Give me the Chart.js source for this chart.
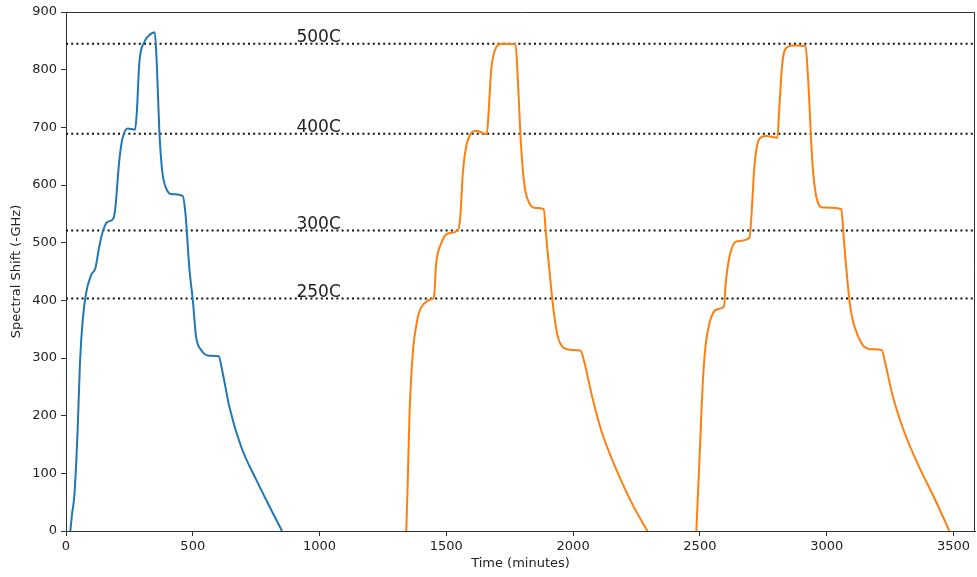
<!DOCTYPE html>
<html>
<head>
<meta charset="utf-8">
<script src="https://cdn.jsdelivr.net/npm/chart.js@4.4.1/dist/chart.umd.min.js"></script>
<style>
  html, body { margin: 0; padding: 0; background: #fff; }
  #wrap { width: 977px; height: 577px; }
</style>
</head>
<body>
<div id="wrap"><canvas id="shift-chart" width="977" height="577"></canvas></div>
<script>
// Run 1 (blue)
const run1Time  = [17, 24, 33, 46, 55, 66, 79, 99, 116, 131, 147, 164, 187, 195, 210, 223, 243, 272, 279, 289, 309, 329, 350,
                   358, 368, 379, 395, 421, 460, 471, 487, 500, 513, 533, 565, 602, 618, 644, 690, 750, 802, 852];
const run1Shift = [0, 30, 62, 176, 291, 366, 412, 444, 456, 493, 522, 536, 542, 562, 642, 681, 698, 696, 724, 811, 848, 860, 865,
                   811, 695, 626, 594, 584, 581, 551, 453, 401, 337, 314, 304, 303, 274, 216, 147, 89, 43, 0];

// Run 2 (orange)
const run2Time  = [1342, 1348, 1355, 1361, 1370, 1381, 1394, 1414, 1440, 1451, 1460, 1480, 1506, 1545, 1555, 1565, 1578, 1598,
                   1618, 1660, 1668, 1677, 1697, 1717, 1773, 1782, 1795, 1809, 1828, 1855, 1884, 1894, 1914, 1927, 1939, 1961,
                   1992, 2029, 2044, 2074, 2112, 2173, 2233, 2293];
const run2Shift = [0, 89, 205, 262, 320, 355, 381, 395, 402, 405, 464, 499, 516, 521, 545, 620, 666, 690,
                   694, 688, 736, 799, 839, 845, 844, 782, 666, 597, 568, 560, 558, 510, 418, 369, 338, 318,
                   314, 313, 293, 235, 173, 104, 47, 0];

// Run 3 (orange)
const run3Time  = [2486, 2495, 2506, 2512, 2522, 2535, 2552, 2571, 2595, 2602, 2617, 2644, 2696, 2703, 2716, 2736, 2762, 2806,
                   2812, 2825, 2844, 2867, 2917, 2927, 2944, 2959, 2986, 3058, 3067, 3088, 3101, 3124, 3147, 3184, 3217, 3230,
                   3260, 3305, 3366, 3426, 3484];
const run3Shift = [0, 89, 205, 262, 320, 355, 378, 385, 389, 430, 476, 502, 509, 545, 637, 681, 685, 682,
                   724, 811, 839, 842, 841, 782, 637, 580, 561, 558, 510, 407, 369, 338, 320, 315, 314, 293,
                   235, 173, 110, 56, 0];

// Temperature reference levels
const levelNames = ['250C', '300C', '400C', '500C'];
const levelShift = [403, 521, 689, 845];
const levelLabelTime = 909;

const xTicks = [0, 500, 1000, 1500, 2000, 2500, 3000, 3500];
const xMax = 3585;
const yMax = 900;

const FONT = "'DejaVu Sans', sans-serif";
const BLUE = '#1f77b4';
const ORANGE = '#ff7f0e';
const INK = '#222';
const SPINE = '#333';

function toPoints(times, values) {
    return times.map((t, i) => ({ x: t, y: values[i] }));
}

function curve(times, values, color) {
    return {
        data: toPoints(times, values),
        borderColor: color,
        borderWidth: 2,
        pointRadius: 0,
        fill: false,
        cubicInterpolationMode: 'monotone'
    };
}

const levelSets = levelShift.map(v => ({
    data: [{ x: 0, y: v }, { x: xMax, y: v }],
    borderColor: '#111',
    borderWidth: 2,
    borderDash: [2, 3.2],
    borderCapStyle: 'butt',
    pointRadius: 0,
    fill: false
}));

// closes the box: top and right spines
const boxPlugin = {
    id: 'box',
    afterDraw(chart) {
        const { ctx, chartArea: a } = chart;
        ctx.save();
        ctx.strokeStyle = SPINE;
        ctx.lineWidth = 1;
        ctx.beginPath();
        ctx.moveTo(a.left, a.top + 0.5);
        ctx.lineTo(a.right - 0.5, a.top + 0.5);
        ctx.lineTo(a.right - 0.5, a.bottom);
        ctx.stroke();
        ctx.restore();
    }
};

// text above each dotted level
const levelLabels = {
    id: 'levelLabels',
    afterDatasetsDraw(chart) {
        const { ctx, scales } = chart;
        ctx.save();
        ctx.font = '17px ' + FONT;
        ctx.fillStyle = INK;
        ctx.textAlign = 'left';
        ctx.textBaseline = 'alphabetic';
        levelNames.forEach((name, i) => {
            const x = scales.x.getPixelForValue(levelLabelTime);
            const y = scales.y.getPixelForValue(levelShift[i]) - 2;
            ctx.fillText(name, x, y);
        });
        ctx.restore();
    }
};

const plain = v => String(v);

const ctx = document.getElementById('shift-chart').getContext('2d');
new Chart(ctx, {
    type: 'line',
    data: {
        datasets: [
            curve(run1Time, run1Shift, BLUE),
            curve(run2Time, run2Shift, ORANGE),
            curve(run3Time, run3Shift, ORANGE),
            ...levelSets
        ]
    },
    options: {
        responsive: false,
        devicePixelRatio: 1,
        animation: false,
        layout: { padding: { top: 12, right: 2, left: 0, bottom: 0 } },
        plugins: {
            legend: { display: false },
            tooltip: { enabled: false }
        },
        scales: {
            x: {
                type: 'linear',
                min: 0,
                max: xMax,
                afterBuildTicks: scale => { scale.ticks = xTicks.map(v => ({ value: v })); },
                afterFit: scale => { scale.height = 46; },
                ticks: { callback: plain, font: { family: FONT, size: 13 }, color: INK, padding: 3, maxRotation: 0 },
                grid: { drawOnChartArea: false, tickLength: 5, color: SPINE },
                border: { color: SPINE, width: 1 },
                title: {
                    display: true,
                    text: 'Time (minutes)',
                    font: { family: FONT, size: 13 },
                    color: INK,
                    padding: { top: 0, bottom: 6 }
                }
            },
            y: {
                min: 0,
                max: yMax,
                ticks: { stepSize: 100, callback: plain, font: { family: FONT, size: 13 }, color: INK, padding: 4 },
                afterFit: scale => { scale.width = 66; },
                grid: { drawOnChartArea: false, tickLength: 5, color: SPINE },
                border: { color: SPINE, width: 1 },
                title: {
                    display: true,
                    text: 'Spectral Shift (-GHz)',
                    font: { family: FONT, size: 13 },
                    color: INK,
                    padding: { top: 9, bottom: 0 }
                }
            }
        }
    },
    plugins: [boxPlugin, levelLabels]
});
</script>
</body>
</html>
